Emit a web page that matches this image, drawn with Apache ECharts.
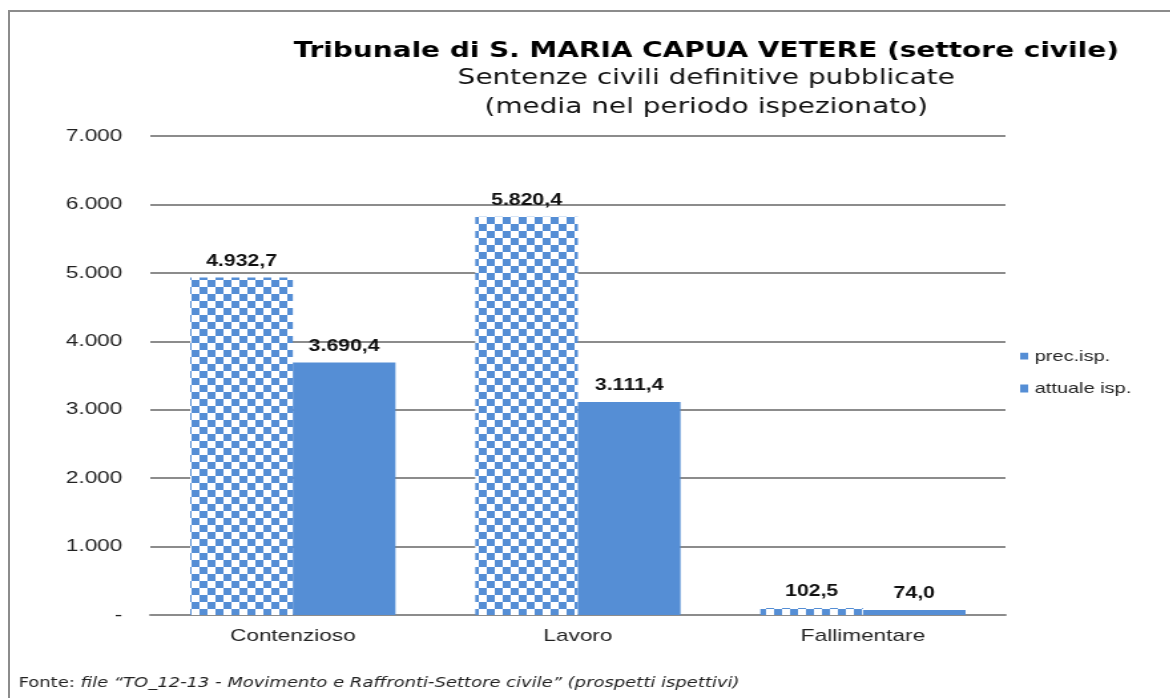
<!DOCTYPE html>
<html>
<head>
<meta charset="utf-8">
<script src="https://cdn.jsdelivr.net/npm/echarts@6/dist/echarts.min.js"></script>
<style>
  html, body { margin: 0; padding: 0; background: #fff; overflow: hidden; }
  #wrap { position: relative; width: 1170px; height: 698px; }
  #frame {
    position: absolute; left: 8px; top: 10px; right: -10px; bottom: -10px;
    border-top: 2px solid #8c8c8c; border-left: 2px solid #8c8c8c;
  }
  /* the original picture is stretched horizontally, so the chart is too */
  #chart {
    position: absolute; left: 0; top: 0;
    width: 880px; height: 698px;
    transform: scaleX(1.33); transform-origin: 0 0;
  }
</style>
</head>
<body>
<div id="wrap">
  <div id="frame"></div>
  <div id="chart"></div>
</div>
<script>
const categories = ['Contenzioso', 'Lavoro', 'Fallimentare'];
const precIsp = [4932.7, 5820.4, 102.5];
const attualeIsp = [3690.4, 3111.4, 74.0];
const seriesNames = ['prec.isp.', 'attuale isp.'];

const blue = '#558ed5';

// formato italiano: 4.932,7
function fmt(v, dec) {
  const parts = v.toFixed(dec).split('.');
  const int = parts[0].replace(/\B(?=(\d{3})+(?!\d))/g, '.');
  return parts[1] ? int + ',' + parts[1] : int;
}

// motivo a scacchi per la serie precedente
function checker() {
  const c = document.createElement('canvas');
  c.width = 12;
  c.height = 14;
  const ctx = c.getContext('2d');
  ctx.fillStyle = '#fff';
  ctx.fillRect(0, 0, 12, 14);
  ctx.fillStyle = blue;
  ctx.fillRect(0, 0, 6, 7);
  ctx.fillRect(6, 7, 6, 7);
  return c;
}

const myChart = echarts.init(document.getElementById('chart'));

const labelStyle = {
  show: true,
  position: 'top',
  distance: 8,
  color: '#111',
  fontFamily: 'Liberation Sans',
  fontWeight: 'bold',
  fontSize: 16,
  formatter: p => fmt(p.value, 1)
};

myChart.setOption({
  animation: false,
  title: [
    {
      text: 'Tribunale di S. MARIA CAPUA VETERE (settore civile)',
      left: 526,
      top: 36,
      textAlign: 'center',
      textStyle: { fontFamily: 'DejaVu Sans', fontWeight: 'bold', fontSize: 21, color: '#000' }
    },
    {
      text: 'Sentenze civili definitive pubblicate\n(media nel periodo ispezionato)',
      left: 526,
      top: 59,
      textAlign: 'center',
      textStyle: { fontFamily: 'DejaVu Sans', fontWeight: 'normal', fontSize: 21, color: '#111', lineHeight: 29 }
    },
    {
      text: '{a|Fonte: }{b|file \u201cTO_12-13 - Movimento e Raffronti-Settore civile\u201d (prospetti ispettivi)}',
      left: 9,
      top: 671,
      textStyle: {
        rich: {
          a: { fontFamily: 'DejaVu Sans', fontWeight: 'normal', fontSize: 13.5, color: '#222' },
          b: { fontFamily: 'DejaVu Sans', fontWeight: 'normal', fontStyle: 'italic', fontSize: 13.5, color: '#222' }
        }
      }
    }
  ],
  legend: {
    orient: 'vertical',
    left: 762,
    top: 344,
    icon: 'rect',
    itemWidth: 6,
    itemHeight: 8,
    itemGap: 17,
    textStyle: { fontFamily: 'Liberation Sans', fontSize: 15, color: '#222' },
    data: seriesNames
  },
  grid: { left: 113, right: 124, top: 136, bottom: 83 },
  xAxis: {
    type: 'category',
    data: categories,
    axisTick: { show: false },
    axisLine: { lineStyle: { color: '#8c8c8c', width: 2 } },
    axisLabel: { fontFamily: 'Liberation Sans', fontSize: 17, color: '#222', margin: 13 }
  },
  yAxis: {
    type: 'value',
    min: 0,
    max: 7000,
    interval: 1000,
    axisLine: { show: false },
    axisTick: { show: false },
    splitLine: { lineStyle: { color: '#8c8c8c', width: 2 } },
    axisLabel: {
      fontFamily: 'Liberation Sans',
      fontSize: 17,
      color: '#222',
      margin: 21,
      formatter: v => v === 0 ? '-' : fmt(v, 0)
    }
  },
  series: [
    {
      name: seriesNames[0],
      type: 'bar',
      data: precIsp,
      barGap: '0%',
      barCategoryGap: '28%',
      itemStyle: { color: { image: checker(), repeat: 'repeat' } },
      label: labelStyle
    },
    {
      name: seriesNames[1],
      type: 'bar',
      data: attualeIsp,
      itemStyle: { color: blue },
      label: labelStyle
    }
  ]
});
</script>
</body>
</html>
